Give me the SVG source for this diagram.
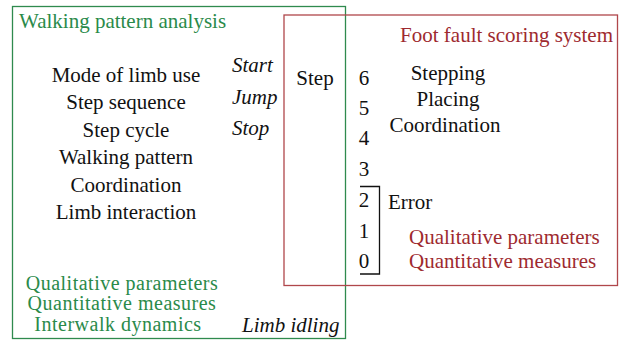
<svg xmlns="http://www.w3.org/2000/svg" width="622" height="341" viewBox="0 0 622 341" font-family="'Liberation Serif', 'DejaVu Serif', 'Times New Roman', serif" font-size="21">
<style>
text{font-family:'Liberation Serif','DejaVu Serif','Times New Roman',serif;font-size:21px;fill:#111}
.g{fill:#2a8a4a}
.r{fill:#9e2a2f}
.i{font-style:italic}
.m{text-anchor:middle}
.s{font-size:20px;letter-spacing:0.5px}
</style>
<rect width="622" height="341" fill="#fff"/>
<g id="walking-pattern-analysis">
<rect x="12.5" y="6.5" width="333" height="332" fill="none" stroke="#2f8a4e" stroke-width="1.3"/>
<text x="19" y="28" class="g">Walking pattern analysis</text>
<text x="126" y="82" class="m">Mode of limb use</text>
<text x="126" y="109" class="m">Step sequence</text>
<text x="126" y="137" class="m">Step cycle</text>
<text x="126" y="164" class="m">Walking pattern</text>
<text x="126" y="192" class="m">Coordination</text>
<text x="126" y="219" class="m">Limb interaction</text>
<text x="232" y="72" class="i">Start</text>
<text x="232" y="104" class="i">Jump</text>
<text x="232" y="135" class="i">Stop</text>
<text x="122" y="290" class="g m s">Qualitative parameters</text>
<text x="122" y="310" class="g m s">Quantitative measures</text>
<text x="118" y="331" class="g m s">Interwalk dynamics</text>
<text x="242" y="332" class="i">Limb idling</text>
</g>
<g id="foot-fault-scoring-system">
<rect x="284" y="15" width="333.5" height="270.5" fill="none" stroke="#b0474b" stroke-width="1.3"/>
<text x="613" y="42" class="r" text-anchor="end">Foot fault scoring system</text>
<text x="315" y="85" class="m">Step</text>
<text x="364" y="85" class="m">6</text>
<text x="364" y="115" class="m">5</text>
<text x="364" y="145" class="m">4</text>
<text x="364" y="176" class="m">3</text>
<text x="364" y="207" class="m">2</text>
<text x="364" y="238" class="m">1</text>
<text x="364" y="268" class="m">0</text>
<text x="448" y="80" class="m">Stepping</text>
<text x="448" y="106" class="m">Placing</text>
<text x="445" y="132" class="m">Coordination</text>
<text x="388" y="209">Error</text>
<text x="409" y="244" class="r">Qualitative parameters</text>
<text x="409" y="268" class="r">Quantitative measures</text>
<path d="M360 186.5 H379.5 V274 H360" fill="none" stroke="#111" stroke-width="1.3"/>
</g>
</svg>
